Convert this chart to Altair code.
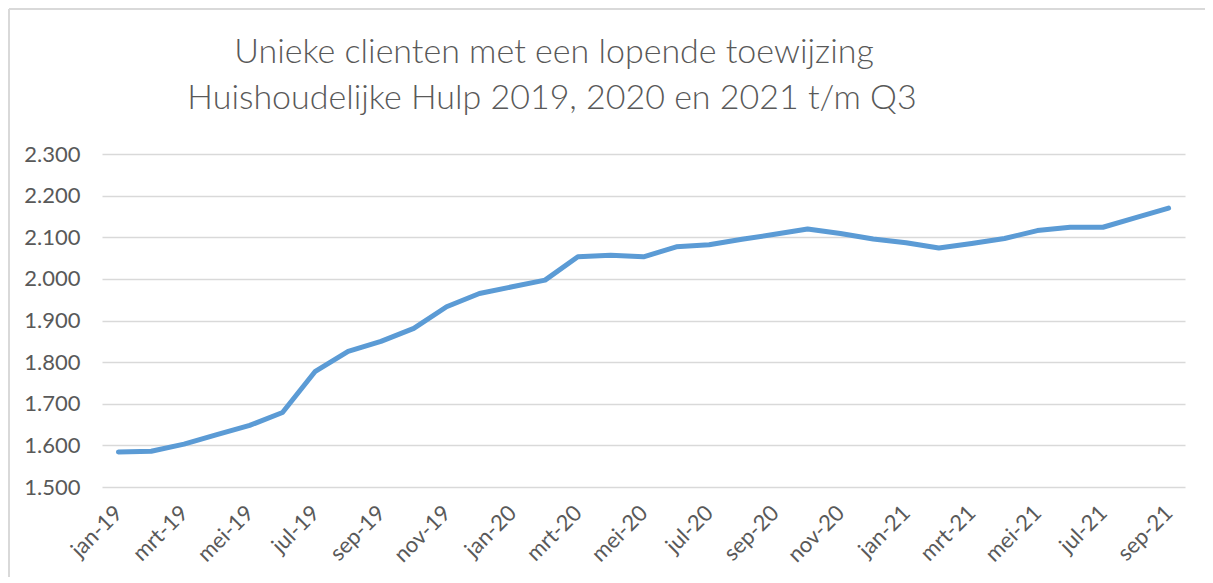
import altair as alt
import pandas as pd

months = ["jan-19", "feb-19", "mrt-19", "apr-19", "mei-19", "jun-19", "jul-19", "aug-19", "sep-19", "okt-19", "nov-19", "dec-19",
          "jan-20", "feb-20", "mrt-20", "apr-20", "mei-20", "jun-20", "jul-20", "aug-20", "sep-20", "okt-20", "nov-20", "dec-20",
          "jan-21", "feb-21", "mrt-21", "apr-21", "mei-21", "jun-21", "jul-21", "aug-21", "sep-21"]
values = [1584, 1586, 1603, 1626, 1648, 1679, 1778, 1826, 1850, 1881, 1933, 1965,
          1981, 1997, 2053, 2057, 2053, 2077, 2082, 2095, 2107, 2120, 2109, 2096,
          2087, 2074, 2085, 2097, 2116, 2124, 2124, 2147, 2170]
shown_labels = months[::2]
title_lines = ["Unieke clienten met een lopende toewijzing", "Huishoudelijke Hulp 2019, 2020 en 2021 t/m Q3"]

df = pd.DataFrame({"maand": months, "clienten": values})

W, H = 1083, 333
GREY = "#595959"
FONT = "Lato"

line = alt.Chart(df).mark_line(color="#5b9bd5", strokeWidth=5, strokeCap="round", strokeJoin="round").encode(
    x=alt.X("maand:N", sort=months,
            scale=alt.Scale(type="point", padding=0.5),
            axis=alt.Axis(title=None, labelAngle=-45, labelAlign="right", labelBaseline="middle",
                          labelFont=FONT, labelFontSize=22, labelColor=GREY, labelPadding=22,
                          domain=False, ticks=False, grid=False,
                          values=shown_labels, labelOverlap=False)),
    y=alt.Y("clienten:Q",
            scale=alt.Scale(domain=[1500, 2300], nice=False, zero=False),
            axis=alt.Axis(title=None, values=list(range(1500, 2301, 100)),
                          labelExpr="replace(format(datum.value, ','), ',', '.')",
                          labelFont=FONT, labelFontSize=22, labelColor=GREY, labelPadding=22,
                          domain=False, ticks=False, grid=True, gridColor="#d9d9d9", gridWidth=1.5)),
)

border_top = alt.Chart(df).mark_rule(color="#d9d9d9", strokeWidth=2).encode(
    x=alt.value(-93), x2=alt.value(1120), y=alt.value(-145))
border_left = alt.Chart(df).mark_rule(color="#d9d9d9", strokeWidth=2).encode(
    x=alt.value(-93), y=alt.value(-145), y2=alt.value(440))

title_df = pd.DataFrame({"line": title_lines, "row": [0, 1]})
title1 = alt.Chart(title_df).transform_filter("datum.row == 0").mark_text(
    font=FONT, fontSize=34, fontWeight=300, color=GREY, align="center", baseline="alphabetic"
).encode(text="line:N", x=alt.value(452), y=alt.value(-91))
title2 = alt.Chart(title_df).transform_filter("datum.row == 1").mark_text(
    font=FONT, fontSize=34, fontWeight=300, color=GREY, align="center", baseline="alphabetic"
).encode(text="line:N", x=alt.value(450), y=alt.value(-45))

chart = alt.layer(border_top, border_left, title1, title2, line).properties(
    width=W, height=H,
    autosize=alt.AutoSizeParams(type="none"),
    padding={"left": 94, "top": 146, "right": 20, "bottom": 90},
).configure_view(stroke=None)

chart.save("out.html", embed_options={"renderer": "svg", "actions": False})
